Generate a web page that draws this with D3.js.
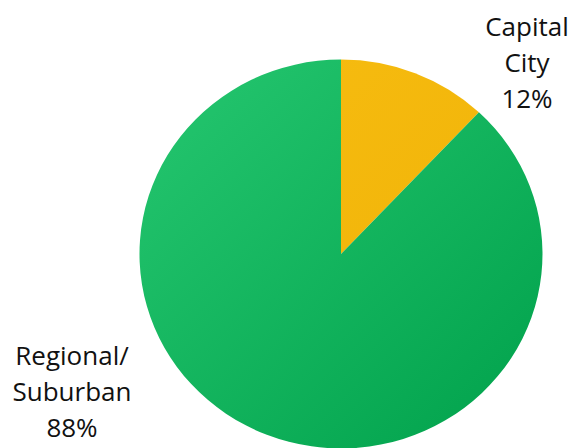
<html>
  <head>
    <script src="https://d3js.org/d3.v7.min.js"></script>
    <style>
      body { margin: 0; background: #fff; }
      svg { font-family: "Open Sans", sans-serif; }
    </style>
  </head>
  <body>
    <div id="chart"></div>
    <script>
var categories = ["Capital City", "Regional/ Suburban"];
var shares = [12, 88];
var labelLines = [["Capital", "City", "12%"], ["Regional/", "Suburban", "88%"]];

var width = 572;
var height = 448;
var cx = 341, cy = 254;
var radius = 201.5;
var squash = 0.965;

var svg = d3.select("#chart").append("svg")
  .attr("width", width)
  .attr("height", height);

/* gradients */
var defs = svg.append("defs");
var grads = [
  {id: "gYellow", from: "#f8be12", to: "#eeb005"},
  {id: "gGreen", from: "#26c770", to: "#00a14b"}
];
grads.forEach(function(g) {
  var lg = defs.append("linearGradient")
    .attr("id", g.id)
    .attr("gradientUnits", "userSpaceOnUse")
    .attr("x1", -radius).attr("y1", -radius)
    .attr("x2", radius).attr("y2", radius);
  lg.append("stop").attr("offset", "0%").attr("stop-color", g.from);
  lg.append("stop").attr("offset", "100%").attr("stop-color", g.to);
});
var color = d3.scaleOrdinal().domain(categories).range(["url(#gYellow)", "url(#gGreen)"]);

var pie = d3.pie().sort(null).value(d => d);
var arc = d3.arc().innerRadius(0).outerRadius(radius);

var g = svg.append("g")
  .attr("transform", `translate(${cx}, ${cy}) scale(1, ${squash})`);

g.selectAll("path")
  .data(pie(shares))
  .enter().append("path")
  .attr("d", arc)
  .attr("fill", (d, i) => color(categories[i]));

/* labels */
var labelPos = [{x: 527, y: 36}, {x: 72, y: 365}];
var lineH = 36;

labelLines.forEach(function(lines, i) {
  var t = svg.append("text")
    .attr("text-anchor", "middle")
    .attr("font-size", "26px")
    .attr("fill", "#111");
  lines.forEach(function(s, j) {
    t.append("tspan")
      .attr("x", labelPos[i].x)
      .attr("y", labelPos[i].y + j * lineH)
      .text(s);
  });
});
    </script>
  </body>
</html>
